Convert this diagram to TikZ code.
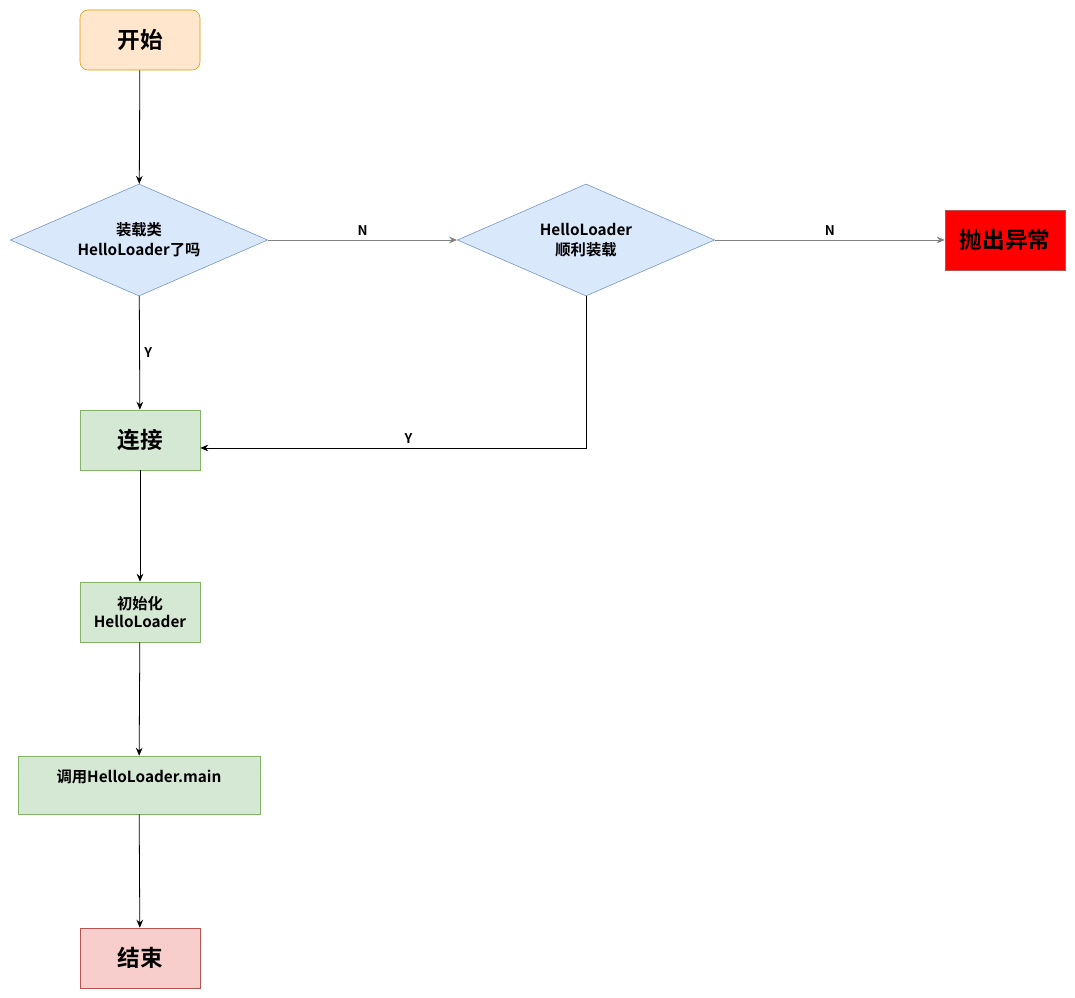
\documentclass[tikz,border=0pt]{standalone}
\usepackage{fontspec}
\setmainfont{Noto Sans CJK SC}[BoldFont={Noto Sans CJK SC Bold}]
\usepackage{tikz}
\usetikzlibrary{shapes.geometric,arrows.meta}
\definecolor{startfill}{HTML}{FFE6CC}
\definecolor{startline}{HTML}{D79B00}
\definecolor{askfill}{HTML}{DAE8FC}
\definecolor{askline}{HTML}{6C8EBF}
\definecolor{stepfill}{HTML}{D5E8D4}
\definecolor{stepline}{HTML}{82B366}
\definecolor{endfill}{HTML}{F8CECC}
\definecolor{endline}{HTML}{B85450}
\definecolor{noline}{HTML}{808080}
\tikzset{box/.style={
    rectangle,
    minimum width=90pt,
    minimum height=45pt,
    align=center,
    font=\bfseries\fontsize{11.5}{13.5}\selectfont}}
\tikzset{bigtext/.style={
    font=\bfseries\fontsize{17}{20}\selectfont}}
\tikzset{ask/.style={
    diamond,
    aspect=2.3,
    inner sep=0pt,
    minimum width=193pt,
    minimum height=84pt,
    align=center,
    fill=askfill,
    draw=askline,
    font=\bfseries\fontsize{11.5}{15}\selectfont}}
\tikzset{flow/.style={
    -{Stealth[length=6pt,width=5pt,inset=2pt]},
    line width=0.6pt}}
\tikzset{tag/.style={
    font=\bfseries\fontsize{10}{12}\selectfont}}

\begin{document}
\begin{tikzpicture}[x=0.75pt, y=-0.75pt]
  \useasboundingbox (0,0) rectangle (1075,998);
\coordinate (START) at (140,40);
\coordinate (ASK1) at (139,240);
\coordinate (ASK2) at (586,240);
\coordinate (FAIL) at (1005,240);
\coordinate (LINK) at (140,440);
\coordinate (INIT) at (140,612);
\coordinate (CALL) at (139,785);
\coordinate (STOP) at (140,958);

\node[box, bigtext,
  rounded corners=6pt,
  fill=startfill,
  draw=startline] (start) at (START) {开始};

\node[ask] (ask1) at (ASK1) {装载类\\HelloLoader了吗};

\node[ask] (ask2) at (ASK2) {HelloLoader\\顺利装载};

\node[box, bigtext,
  fill=red,
  draw=endline] (fail) at (FAIL) {抛出异常};

\node[box, bigtext,
  fill=stepfill,
  draw=stepline] (link) at (LINK) {连接};

\node[box,
  fill=stepfill,
  draw=stepline] (init) at (INIT) {初始化\\HelloLoader};

\node[box,
  minimum width=181.5pt,
  minimum height=43.5pt,
  fill=stepfill,
  draw=stepline] (call) at (CALL) {调用HelloLoader.main\\\mbox{}};

\node[box, bigtext,
  fill=endfill,
  draw=endline] (stop) at (STOP) {结束};

\coordinate (linkin) at ([yshift=-6pt]link.east);

\draw[flow] (start) -- (ask1);
\draw[flow, draw=noline] (ask1) -- node[tag, above, text=black] {N} (ask2);
\draw[flow, draw=noline] (ask2) -- node[tag, above, text=black] {N} (fail);
\draw[flow] (ask1) -- node[tag, right] {Y} (link);
\draw[flow] (ask2) |- node[tag, above, pos=0.73] {Y} (linkin);
\draw[flow] (link) -- (init);
\draw[flow] (init) -- (call);
\draw[flow] (call) -- (stop);

\end{tikzpicture}
\end{document}
